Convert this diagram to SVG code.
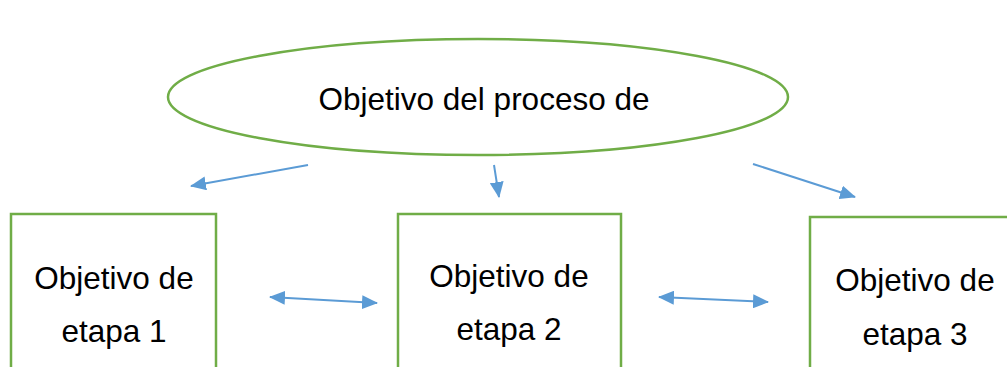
<svg xmlns="http://www.w3.org/2000/svg" width="1007" height="367" viewBox="0 0 1007 367">
<style>
.n{fill:#fff;stroke:#70AD47;stroke-width:2.5}
.t{font-family:"Liberation Sans",Arial,sans-serif;font-size:31.5px;fill:#000;text-anchor:middle}
.c{stroke:#5B9BD5;stroke-width:2;fill:none}
</style>
<defs>
<marker id="ah" viewBox="0 0 16 14" refX="15" refY="7" markerWidth="16" markerHeight="14" markerUnits="userSpaceOnUse" orient="auto-start-reverse"><path d="M0,0 L16,7 L0,14 z" fill="#5B9BD5"/></marker>
</defs>
<rect width="1007" height="367" fill="#fff"/>
<g id="goal">
<ellipse class="n" cx="478" cy="97" rx="310" ry="58"/>
<text class="t" x="484" y="110">Objetivo del proceso de</text>
</g>
<g id="stage1">
<rect class="n" x="11" y="214" width="205" height="170"/>
<text class="t" x="114" y="289">Objetivo de</text>
<text class="t" x="114" y="342">etapa 1</text>
</g>
<g id="stage2">
<rect class="n" x="398" y="214" width="223" height="170"/>
<text class="t" x="509" y="287">Objetivo de</text>
<text class="t" x="509" y="340">etapa 2</text>
</g>
<g id="stage3">
<rect class="n" x="810" y="217" width="220" height="170"/>
<text class="t" x="915" y="291">Objetivo de</text>
<text class="t" x="915" y="345">etapa 3</text>
</g>
<g id="connectors">
<line class="c" x1="308" y1="165" x2="191" y2="186" marker-end="url(#ah)"/>
<line class="c" x1="494" y1="165" x2="499" y2="197" marker-end="url(#ah)"/>
<line class="c" x1="753" y1="164" x2="855" y2="197" marker-end="url(#ah)"/>
<line class="c" x1="270" y1="297" x2="377" y2="303" marker-start="url(#ah)" marker-end="url(#ah)"/>
<line class="c" x1="659" y1="297" x2="768" y2="302" marker-start="url(#ah)" marker-end="url(#ah)"/>
</g>
</svg>
